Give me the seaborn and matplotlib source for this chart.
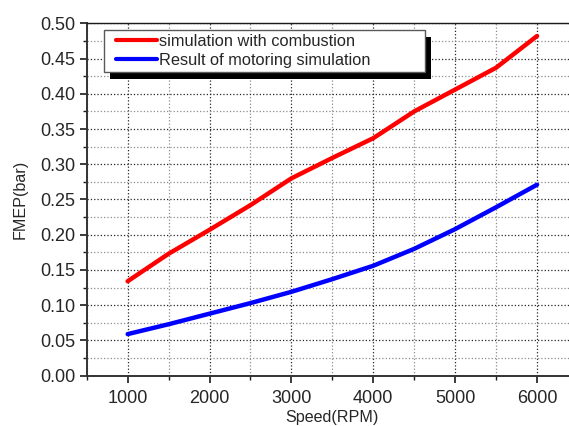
import pandas as pd
import matplotlib
matplotlib.use("Agg")
import matplotlib.pyplot as plt
import seaborn as sns
from matplotlib.ticker import MultipleLocator
from matplotlib.lines import Line2D
from matplotlib.legend_handler import HandlerLine2D
from matplotlib.patches import Rectangle
from matplotlib.transforms import IdentityTransform

# values
speed = [1000, 1500, 2000, 2500, 3000, 3500, 4000, 4500, 5000, 5500, 6000]
fmep_combustion = [0.134, 0.173, 0.207, 0.242, 0.280, 0.309, 0.337, 0.375, 0.406, 0.437, 0.482]
fmep_motoring = [0.059, 0.073, 0.088, 0.103, 0.119, 0.137, 0.156, 0.180, 0.208, 0.239, 0.271]
labels = ["simulation with combustion", "Result of motoring simulation"]

df = pd.concat([
    pd.DataFrame({"Speed": speed, "FMEP": fmep_combustion, "case": labels[0]}),
    pd.DataFrame({"Speed": speed, "FMEP": fmep_motoring, "case": labels[1]}),
])

sns.set_style("ticks")
plt.rcParams["font.family"] = ["Liberation Sans", "DejaVu Sans"]

fig = plt.figure(figsize=(5.69, 4.26), dpi=100)
ax = fig.add_axes([0.1524, 0.1181, 0.8634, 0.8272])

sns.lineplot(data=df, x="Speed", y="FMEP", hue="case",
             palette=["#ff0000", "#0000ff"], linewidth=3.2, ax=ax)

ax.set_xlim(500, 6500)
ax.set_ylim(0, 0.5)
ax.xaxis.set_major_locator(MultipleLocator(1000))
ax.xaxis.set_minor_locator(MultipleLocator(500))
ax.yaxis.set_major_locator(MultipleLocator(0.05))
ax.yaxis.set_minor_locator(MultipleLocator(0.025))
ax.yaxis.set_major_formatter(plt.FormatStrFormatter("%.2f"))

# dotted grid, like Origin
ax.grid(which="major", linestyle=":", color="0.15", linewidth=0.9)
ax.grid(which="minor", linestyle=":", color="0.55", linewidth=0.9)
ax.set_axisbelow(True)

ax.tick_params(which="major", direction="out", length=5, width=1.2,
               labelsize=13, pad=3, color="0.1")
ax.tick_params(which="minor", direction="out", length=3, width=1.0, color="0.1")
ax.tick_params(axis="x", which="major", pad=5)

for side in ["left", "bottom"]:
    ax.spines[side].set_linewidth(1.4)
    ax.spines[side].set_color("0.2")
ax.spines["top"].set_linewidth(1.0)
ax.spines["top"].set_color("0.1")

ax.set_xlabel("Speed(RPM)", fontsize=11.6, labelpad=2.5)
ax.set_ylabel("FMEP(bar)", fontsize=11.6, labelpad=9)

leg = ax.legend(loc="upper left", bbox_to_anchor=(0.036, 0.981, 0.653, 0),
                mode="expand", borderaxespad=0, fontsize=11.8,
                frameon=True, fancybox=False, framealpha=1, shadow=False,
                handlelength=2.95, handletextpad=0.15, labelspacing=0.25,
                borderpad=0.25,
                handler_map={Line2D: HandlerLine2D(xpad=0.46)})
leg.get_frame().set_edgecolor("0.35")
leg.get_frame().set_linewidth(1.0)
for line in leg.get_lines():
    line.set_linewidth(3.0)

# solid black drop shadow under the legend box
fig.canvas.draw()
bb = leg.get_frame().get_window_extent(fig.canvas.get_renderer())
shadow = Rectangle((bb.x0 + 6, bb.y0 - 7), bb.width, bb.height,
                   transform=IdentityTransform(), facecolor="black",
                   edgecolor="none", zorder=4.9, clip_on=False)
ax.add_artist(shadow)

fig.savefig("out.png", dpi=100)
